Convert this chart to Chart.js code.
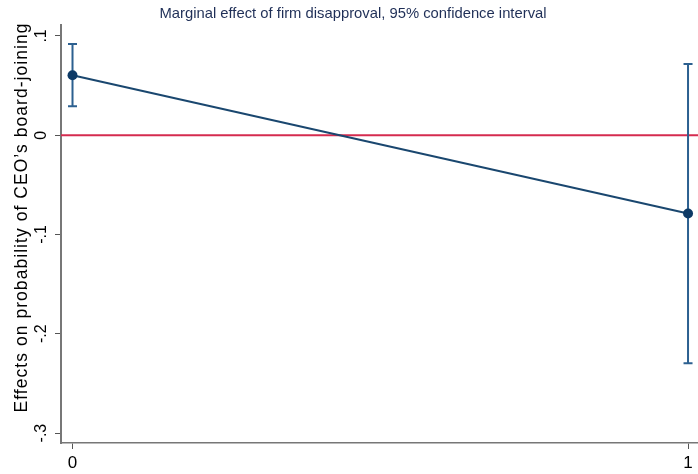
<!DOCTYPE html>
<html>
<head>
<meta charset="utf-8">
<script src="https://cdn.jsdelivr.net/npm/chart.js@4/dist/chart.umd.min.js"></script>
<style>
  html, body { margin: 0; padding: 0; background: #fff; }
  #wrap { width: 698px; height: 474px; }
</style>
</head>
<body>
<div id="wrap"><canvas id="myChart" width="698" height="474"></canvas></div>
<script>
// values
var disapproval = [0, 1];
var effect = [0.0604, -0.0789];
var ciLow = [0.0292, -0.2296];
var ciHigh = [0.0919, 0.0718];
var yTicks = [-0.3, -0.2, -0.1, 0, 0.1];
var yTickLabels = ["-.3", "-.2", "-.1", "0", ".1"];
var xTicks = [0, 1];
var titleText = 'Marginal effect of firm disapproval, 95% confidence interval';
var yTitleText = 'Effects on probability of CEO\u2019s board-joining';

var font = "'Liberation Sans', Arial, Helvetica, sans-serif";

var points = disapproval.map(function (x, i) { return { x: x, y: effect[i] }; });

var extras = {
    id: 'extras',
    beforeDatasetsDraw: function (chart) {
        var c = chart.ctx, a = chart.chartArea;
        var xs = chart.scales.x, ys = chart.scales.y;
        // reference line at zero
        var y0 = ys.getPixelForValue(0);
        c.save();
        c.strokeStyle = '#d52b4f';
        c.lineWidth = 2;
        c.beginPath();
        c.moveTo(a.left, y0);
        c.lineTo(a.right, y0);
        c.stroke();
        // confidence intervals
        c.strokeStyle = '#2c6090';
        c.lineWidth = 2;
        for (var i = 0; i < disapproval.length; i++) {
            var px = xs.getPixelForValue(disapproval[i]);
            var top = ys.getPixelForValue(ciHigh[i]);
            var bot = ys.getPixelForValue(ciLow[i]);
            c.beginPath();
            c.moveTo(px, top); c.lineTo(px, bot);
            c.moveTo(px - 4.5, top); c.lineTo(px + 4.5, top);
            c.moveTo(px - 4.5, bot); c.lineTo(px + 4.5, bot);
            c.stroke();
        }
        c.restore();
    },
    afterDraw: function (chart) {
        var c = chart.ctx, ys = chart.scales.y;
        c.save();
        // title
        c.fillStyle = '#1f2f57';
        c.font = '14.8px ' + font;
        c.textAlign = 'center';
        c.textBaseline = 'middle';
        c.fillText(titleText, 353, 13.5);
        // rotated y tick labels, as Stata draws them
        c.fillStyle = '#000';
        c.font = '16px ' + font;
        for (var i = 0; i < yTicks.length; i++) {
            var py = ys.getPixelForValue(yTicks[i]);
            c.save();
            c.translate(42, py);
            c.rotate(-Math.PI / 2);
            c.fillText(yTickLabels[i], 0, 0);
            c.restore();
        }
        // y axis title
        c.save();
        c.translate(22, 217.5);
        c.rotate(-Math.PI / 2);
        c.font = '17.5px ' + font;
        c.letterSpacing = '1.05px';
        c.fillText(yTitleText, 0, 0);
        c.restore();
        c.restore();
    }
};

var ctx = document.getElementById("myChart");
var myChart = new Chart(ctx, {
    type: 'line',
    data: {
        datasets: [
            {
                data: points,
                borderColor: '#1a476f',
                borderWidth: 2,
                pointRadius: 5,
                pointBackgroundColor: '#0d3a66',
                pointBorderColor: '#0d3a66',
                pointBorderWidth: 0,
                fill: false,
                tension: 0,
                clip: false
            }
        ]
    },
    plugins: [extras],
    options: {
        responsive: false,
        animation: false,
        layout: { autoPadding: false, padding: { top: 25, left: 0, right: 0, bottom: 0 } },
        plugins: {
            legend: { display: false },
            tooltip: { enabled: false },
            title: { display: false }
        },
        scales: {
            x: {
                type: 'linear',
                min: -0.0187,
                max: 1.0162,
                afterBuildTicks: function (s) { s.ticks = xTicks.map(function (v) { return { value: v }; }); },
                afterFit: function (s) { s.height = 31; s.paddingLeft = 0; s.paddingRight = 0; },
                ticks: {
                    color: '#000',
                    font: { family: font, size: 17 },
                    padding: 4,
                    maxRotation: 0,
                    callback: function (v) { return String(v); }
                },
                grid: { display: true, drawOnChartArea: false, drawTicks: true, tickLength: 6, color: '#555', lineWidth: 1 },
                border: { display: true, color: '#777', width: 1.5 }
            },
            y: {
                min: -0.31,
                max: 0.111,
                afterBuildTicks: function (s) { s.ticks = yTicks.map(function (v) { return { value: v }; }); },
                afterFit: function (s) { s.width = 61; s.paddingTop = 0; s.paddingBottom = 0; },
                ticks: { display: false },
                grid: { display: true, drawOnChartArea: false, drawTicks: true, tickLength: 6, color: '#555', lineWidth: 1 },
                border: { display: true, color: '#777', width: 2 }
            }
        }
    }
});
</script>
</body>
</html>
